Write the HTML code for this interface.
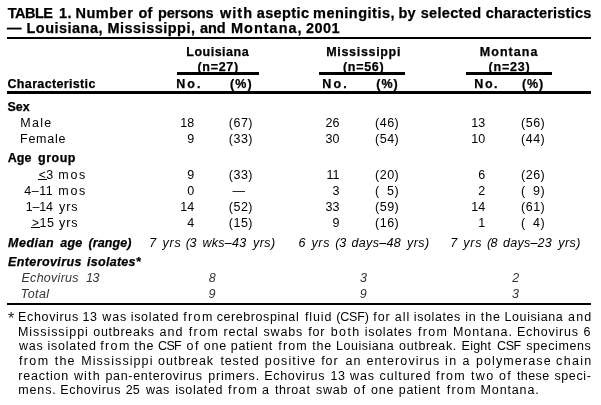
<!DOCTYPE html>
<html lang="en"><head><meta charset="utf-8"><title>TABLE 1</title>
<style>
html,body{margin:0;padding:0;background:#fff;}
body{width:601px;height:405px;position:relative;overflow:hidden;font-family:"Liberation Sans",Arial,Helvetica,sans-serif;color:#000;}
.t{position:absolute;white-space:pre;line-height:16px;font-size:12.5px;}
.b{font-weight:bold;-webkit-text-stroke:0.25px #000;}.i{font-style:italic;}.bi{font-weight:bold;font-style:italic;-webkit-text-stroke:0.25px #000;}.lt{color:#333;}
.ra{text-align:right;}
.rule{position:absolute;background:#000;}
u{text-decoration:none;position:relative;}
u{font-size:12px;}u::after{content:"";position:absolute;left:-1px;right:-0.5px;bottom:2px;height:1px;background:#000;}
</style></head><body>
<span class="t b" style="left:7.75px;top:4.98px;font-size:14.5px;letter-spacing:-0.500px;">TABLE </span>
<span class="t b" style="left:59.00px;top:4.98px;font-size:14.5px;letter-spacing:0.500px;">1. </span>
<span class="t b" style="left:75.50px;top:4.98px;font-size:14.5px;letter-spacing:0.500px;">Number </span>
<span class="t b" style="left:138.50px;top:4.98px;font-size:14.5px;letter-spacing:0.250px;">of </span>
<span class="t b" style="left:158.00px;top:4.98px;font-size:14.5px;letter-spacing:-0.125px;">persons </span>
<span class="t b" style="left:220.00px;top:4.98px;font-size:14.5px;letter-spacing:1.000px;">with </span>
<span class="t b" style="left:256.70px;top:4.98px;font-size:14.5px;letter-spacing:0.383px;">aseptic </span>
<span class="t b" style="left:313.00px;top:4.98px;font-size:14.5px;letter-spacing:0.500px;">meningitis, </span>
<span class="t b" style="left:398.50px;top:4.98px;font-size:14.5px;letter-spacing:0.250px;">by </span>
<span class="t b" style="left:420.70px;top:4.98px;font-size:14.5px;letter-spacing:0.329px;">selected </span>
<span class="t b" style="left:485.70px;top:4.98px;font-size:14.5px;letter-spacing:0.232px;">characteristics </span>
<span class="t b" style="left:7.00px;top:19.98px;font-size:14.5px;">— </span>
<span class="t b" style="left:26.50px;top:19.98px;font-size:14.5px;letter-spacing:0.472px;">Louisiana, </span>
<span class="t b" style="left:107.50px;top:19.98px;font-size:14.5px;letter-spacing:0.477px;">Mississippi, </span>
<span class="t b" style="left:200.00px;top:19.98px;font-size:14.5px;letter-spacing:-0.125px;">and </span>
<span class="t b" style="left:231.00px;top:19.98px;font-size:14.5px;letter-spacing:0.993px;">Montana, </span>
<span class="t b" style="left:306.00px;top:19.98px;font-size:14.5px;letter-spacing:0.417px;">2001 </span>
<div class="rule" style="left:7px;top:37px;width:584px;height:2px"></div>
<span class="t b" style="left:186.25px;top:43.67px;letter-spacing:0.500px;">Louisiana</span>
<span class="t b" style="left:326.25px;top:43.67px;letter-spacing:0.675px;">Mississippi</span>
<span class="t b" style="left:479.75px;top:43.67px;letter-spacing:1.042px;">Montana</span>
<span class="t b" style="left:197.50px;top:58.67px;letter-spacing:0.700px;">(n=27)</span>
<span class="t b" style="left:343.00px;top:58.67px;letter-spacing:0.700px;">(n=56)</span>
<span class="t b" style="left:488.50px;top:58.67px;letter-spacing:0.800px;">(n=23)</span>
<div class="rule" style="left:177px;top:72px;width:82px;height:3px"></div>
<div class="rule" style="left:319px;top:72px;width:86px;height:3px"></div>
<div class="rule" style="left:466px;top:72px;width:86px;height:3px"></div>
<span class="t b" style="left:7.50px;top:75.67px;letter-spacing:0.346px;">Characteristic</span>
<span class="t b" style="left:176.25px;top:75.67px;letter-spacing:2.000px;">No.</span>
<span class="t b" style="left:230.00px;top:75.67px;letter-spacing:1.125px;">(%)</span>
<span class="t b" style="left:322.25px;top:75.67px;letter-spacing:2.125px;">No.</span>
<span class="t b" style="left:376.20px;top:75.67px;letter-spacing:1.025px;">(%)</span>
<span class="t b" style="left:474.25px;top:75.67px;letter-spacing:1.600px;">No.</span>
<span class="t b" style="left:522.00px;top:75.67px;letter-spacing:0.875px;">(%)</span>
<div class="rule" style="left:7px;top:91px;width:584px;height:3px"></div>
<span class="t b" style="left:7.50px;top:98.67px;">Sex</span>
<span class="t r" style="left:20.30px;top:114.67px;letter-spacing:1.233px;">Male</span>
<span class="t ra" style="right:406.75px;top:114.67px;">18</span>
<span class="t ra" style="right:348.0px;top:114.67px;letter-spacing:0.5px;">(67)</span>
<span class="t ra" style="right:261.5px;top:114.67px;">26</span>
<span class="t ra" style="right:201.75px;top:114.67px;letter-spacing:0.5px;">(46)</span>
<span class="t ra" style="right:115.75px;top:114.67px;">13</span>
<span class="t ra" style="right:55.75px;top:114.67px;letter-spacing:0.5px;">(56)</span>
<span class="t r" style="left:20.00px;top:130.67px;letter-spacing:0.750px;">Female</span>
<span class="t ra" style="right:406.75px;top:130.67px;">9</span>
<span class="t ra" style="right:348.0px;top:130.67px;letter-spacing:0.5px;">(33)</span>
<span class="t ra" style="right:261.5px;top:130.67px;">30</span>
<span class="t ra" style="right:201.75px;top:130.67px;letter-spacing:0.5px;">(54)</span>
<span class="t ra" style="right:115.75px;top:130.67px;">10</span>
<span class="t ra" style="right:55.75px;top:130.67px;letter-spacing:0.5px;">(44)</span>
<span class="t b" style="left:7.75px;top:149.67px;">Age </span>
<span class="t b" style="left:38.10px;top:149.67px;letter-spacing:0.475px;">group</span>
<span class="t r" style="left:38.75px;top:166.67px;letter-spacing:0.500px;"><u>&lt;</u>3</span>
<span class="t r" style="left:58.25px;top:166.67px;letter-spacing:1.750px;">mos</span>
<span class="t ra" style="right:406.75px;top:166.67px;">9</span>
<span class="t ra" style="right:348.0px;top:166.67px;letter-spacing:0.5px;">(33)</span>
<span class="t ra" style="right:261.5px;top:166.67px;">11</span>
<span class="t ra" style="right:201.75px;top:166.67px;letter-spacing:0.5px;">(20)</span>
<span class="t ra" style="right:115.75px;top:166.67px;">6</span>
<span class="t ra" style="right:55.75px;top:166.67px;letter-spacing:0.5px;">(26)</span>
<span class="t r" style="left:24.35px;top:182.67px;letter-spacing:0.467px;">4–11</span>
<span class="t r" style="left:58.25px;top:182.67px;letter-spacing:1.750px;">mos</span>
<span class="t ra" style="right:406.75px;top:182.67px;">0</span>
<span class="t ra" style="right:356px;top:182.67px;">—</span>
<span class="t ra" style="right:261.5px;top:182.67px;">3</span>
<span class="t ra" style="right:201.75px;top:182.67px;letter-spacing:0.5px;word-spacing:3.47px;">( 5)</span>
<span class="t ra" style="right:115.75px;top:182.67px;">2</span>
<span class="t ra" style="right:55.75px;top:182.67px;letter-spacing:0.5px;word-spacing:3.47px;">( 9)</span>
<span class="t r" style="left:25.70px;top:198.67px;letter-spacing:-0.167px;">1–14</span>
<span class="t r" style="left:59.00px;top:198.67px;letter-spacing:0.875px;">yrs</span>
<span class="t ra" style="right:406.75px;top:198.67px;">14</span>
<span class="t ra" style="right:348.0px;top:198.67px;letter-spacing:0.5px;">(52)</span>
<span class="t ra" style="right:261.5px;top:198.67px;">33</span>
<span class="t ra" style="right:201.75px;top:198.67px;letter-spacing:0.5px;">(59)</span>
<span class="t ra" style="right:115.75px;top:198.67px;">14</span>
<span class="t ra" style="right:55.75px;top:198.67px;letter-spacing:0.5px;">(61)</span>
<span class="t r" style="left:32.00px;top:214.67px;letter-spacing:0.475px;"><u>&gt;</u>15</span>
<span class="t r" style="left:59.00px;top:214.67px;letter-spacing:0.875px;">yrs</span>
<span class="t ra" style="right:406.75px;top:214.67px;">4</span>
<span class="t ra" style="right:348.0px;top:214.67px;letter-spacing:0.5px;">(15)</span>
<span class="t ra" style="right:261.5px;top:214.67px;">9</span>
<span class="t ra" style="right:201.75px;top:214.67px;letter-spacing:0.5px;">(16)</span>
<span class="t ra" style="right:115.75px;top:214.67px;">1</span>
<span class="t ra" style="right:55.75px;top:214.67px;letter-spacing:0.5px;word-spacing:3.47px;">( 4)</span>
<span class="t bi" style="left:8.05px;top:234.67px;letter-spacing:0.490px;">Median </span>
<span class="t bi" style="left:60.30px;top:234.67px;letter-spacing:0.225px;">age </span>
<span class="t bi" style="left:88.50px;top:234.67px;letter-spacing:0.083px;">(range)</span>
<span class="t i" style="left:149.35px;top:234.67px;">7 </span>
<span class="t i" style="left:162.45px;top:234.67px;letter-spacing:0.800px;">yrs </span>
<span class="t i" style="left:185.80px;top:234.67px;letter-spacing:-0.500px;">(3 </span>
<span class="t i" style="left:202.50px;top:234.67px;letter-spacing:0.250px;">wks–43 </span>
<span class="t i" style="left:253.05px;top:234.67px;letter-spacing:0.450px;">yrs)</span>
<span class="t i" style="left:298.55px;top:234.67px;">6 </span>
<span class="t i" style="left:311.45px;top:234.67px;letter-spacing:0.650px;">yrs </span>
<span class="t i" style="left:335.20px;top:234.67px;letter-spacing:-0.200px;">(3 </span>
<span class="t i" style="left:351.50px;top:234.67px;letter-spacing:0.325px;">days–48 </span>
<span class="t i" style="left:407.05px;top:234.67px;letter-spacing:0.450px;">yrs)</span>
<span class="t i" style="left:450.15px;top:234.67px;">7 </span>
<span class="t i" style="left:463.35px;top:234.67px;letter-spacing:0.700px;">yrs </span>
<span class="t i" style="left:486.90px;top:234.67px;letter-spacing:-0.600px;">(8 </span>
<span class="t i" style="left:503.10px;top:234.67px;letter-spacing:0.225px;">days–23 </span>
<span class="t i" style="left:558.35px;top:234.67px;letter-spacing:0.383px;">yrs)</span>
<span class="t bi" style="left:8.05px;top:253.67px;letter-spacing:0.395px;">Enterovirus </span>
<span class="t bi" style="left:87.05px;top:253.67px;letter-spacing:0.275px;">isolates*</span>
<span class="t i lt" style="left:21.50px;top:269.67px;letter-spacing:0.275px;">Echovirus </span>
<span class="t i lt" style="left:86.05px;top:269.67px;letter-spacing:-0.500px;">13</span>
<span class="t i lt" style="left:208.75px;top:269.67px;">8</span>
<span class="t i lt" style="left:360.05px;top:269.67px;">3</span>
<span class="t i lt" style="left:512.20px;top:269.67px;">2</span>
<span class="t i lt" style="left:20.75px;top:285.67px;letter-spacing:0.438px;">Total</span>
<span class="t i lt" style="left:208.50px;top:285.67px;">9</span>
<span class="t i lt" style="left:359.80px;top:285.67px;">9</span>
<span class="t i lt" style="left:511.95px;top:285.67px;">3</span>
<div class="rule" style="left:7px;top:303px;width:584px;height:2px"></div>
<span class="t" style="left:7.9px;top:311.46px;font-size:16px;color:#222;">*</span>
<span class="t r" style="left:18.00px;top:308.67px;letter-spacing:0.669px;">Echovirus </span>
<span class="t r" style="left:82.60px;top:308.67px;letter-spacing:0.550px;">13 </span>
<span class="t r" style="left:102.25px;top:308.67px;letter-spacing:0.850px;">was </span>
<span class="t r" style="left:130.75px;top:308.67px;letter-spacing:0.657px;">isolated </span>
<span class="t r" style="left:183.15px;top:308.67px;letter-spacing:1.400px;">from </span>
<span class="t r" style="left:216.70px;top:308.67px;letter-spacing:0.579px;">cerebrospinal </span>
<span class="t r" style="left:304.95px;top:308.67px;letter-spacing:0.875px;">fluid </span>
<span class="t r" style="left:336.25px;top:308.67px;letter-spacing:-0.188px;">(CSF) </span>
<span class="t r" style="left:373.35px;top:308.67px;letter-spacing:0.875px;">for </span>
<span class="t r" style="left:394.80px;top:308.67px;letter-spacing:1.025px;">all </span>
<span class="t r" style="left:413.85px;top:308.67px;letter-spacing:0.579px;">isolates </span>
<span class="t r" style="left:465.35px;top:308.67px;letter-spacing:0.650px;">in </span>
<span class="t r" style="left:480.75px;top:308.67px;letter-spacing:0.950px;">the </span>
<span class="t r" style="left:504.60px;top:308.67px;letter-spacing:0.562px;">Louisiana </span>
<span class="t r" style="left:568.10px;top:308.67px;letter-spacing:1.100px;">and </span>
<span class="t r" style="left:18.00px;top:323.67px;letter-spacing:0.940px;">Mississippi </span>
<span class="t r" style="left:93.20px;top:323.67px;letter-spacing:0.737px;">outbreaks </span>
<span class="t r" style="left:159.40px;top:323.67px;letter-spacing:1.100px;">and </span>
<span class="t r" style="left:188.75px;top:323.67px;letter-spacing:1.400px;">from </span>
<span class="t r" style="left:223.55px;top:323.67px;letter-spacing:0.740px;">rectal </span>
<span class="t r" style="left:263.50px;top:323.67px;letter-spacing:0.850px;">swabs </span>
<span class="t r" style="left:308.35px;top:323.67px;letter-spacing:0.725px;">for </span>
<span class="t r" style="left:330.85px;top:323.67px;letter-spacing:1.317px;">both </span>
<span class="t r" style="left:364.85px;top:323.67px;letter-spacing:0.636px;">isolates </span>
<span class="t r" style="left:417.95px;top:323.67px;letter-spacing:1.333px;">from </span>
<span class="t r" style="left:452.90px;top:323.67px;letter-spacing:1.000px;">Montana. </span>
<span class="t r" style="left:517.00px;top:323.67px;letter-spacing:0.750px;">Echovirus </span>
<span class="t r" style="left:583.40px;top:323.67px;">6 </span>
<span class="t r" style="left:19.00px;top:337.67px;letter-spacing:0.775px;">was </span>
<span class="t r" style="left:47.55px;top:337.67px;letter-spacing:0.743px;">isolated </span>
<span class="t r" style="left:100.15px;top:337.67px;letter-spacing:1.400px;">from </span>
<span class="t r" style="left:134.35px;top:337.67px;letter-spacing:0.850px;">the </span>
<span class="t r" style="left:158.10px;top:337.67px;letter-spacing:-0.700px;">CSF </span>
<span class="t r" style="left:186.60px;top:337.67px;letter-spacing:1.400px;">of </span>
<span class="t r" style="left:203.80px;top:337.67px;letter-spacing:0.775px;">one </span>
<span class="t r" style="left:230.85px;top:337.67px;letter-spacing:0.642px;">patient </span>
<span class="t r" style="left:278.35px;top:337.67px;letter-spacing:1.100px;">from </span>
<span class="t r" style="left:312.35px;top:337.67px;letter-spacing:0.800px;">the </span>
<span class="t r" style="left:336.00px;top:337.67px;letter-spacing:0.513px;">Louisiana </span>
<span class="t r" style="left:399.10px;top:337.67px;letter-spacing:0.637px;">outbreak. </span>
<span class="t r" style="left:461.60px;top:337.67px;letter-spacing:0.225px;">Eight </span>
<span class="t r" style="left:497.10px;top:337.67px;letter-spacing:-0.450px;">CSF </span>
<span class="t r" style="left:526.20px;top:337.67px;letter-spacing:0.606px;">specimens </span>
<span class="t r" style="left:18.95px;top:352.67px;letter-spacing:1.400px;">from </span>
<span class="t r" style="left:54.75px;top:352.67px;letter-spacing:1.200px;">the </span>
<span class="t r" style="left:81.20px;top:352.67px;letter-spacing:1.080px;">Mississippi </span>
<span class="t r" style="left:158.10px;top:352.67px;letter-spacing:0.900px;">outbreak </span>
<span class="t r" style="left:220.45px;top:352.67px;letter-spacing:0.860px;">tested </span>
<span class="t r" style="left:264.85px;top:352.67px;letter-spacing:1.143px;">positive </span>
<span class="t r" style="left:321.15px;top:352.67px;letter-spacing:0.975px;">for </span>
<span class="t r" style="left:345.40px;top:352.67px;letter-spacing:1.200px;">an </span>
<span class="t r" style="left:366.40px;top:352.67px;letter-spacing:1.095px;">enterovirus </span>
<span class="t r" style="left:445.02px;top:352.67px;letter-spacing:1.400px;">in </span>
<span class="t r" style="left:462.50px;top:352.67px;">a </span>
<span class="t r" style="left:475.95px;top:352.67px;letter-spacing:1.117px;">polymerase </span>
<span class="t r" style="left:556.10px;top:352.67px;letter-spacing:1.300px;">chain </span>
<span class="t r" style="left:18.25px;top:367.67px;letter-spacing:0.800px;">reaction </span>
<span class="t r" style="left:73.90px;top:367.67px;letter-spacing:1.200px;">with </span>
<span class="t r" style="left:105.45px;top:367.67px;letter-spacing:0.689px;">pan-enterovirus </span>
<span class="t r" style="left:208.15px;top:367.67px;letter-spacing:0.836px;">primers. </span>
<span class="t r" style="left:264.30px;top:367.67px;letter-spacing:0.650px;">Echovirus </span>
<span class="t r" style="left:330.60px;top:367.67px;letter-spacing:0.450px;">13 </span>
<span class="t r" style="left:349.90px;top:367.67px;letter-spacing:0.975px;">was </span>
<span class="t r" style="left:379.50px;top:367.67px;letter-spacing:0.921px;">cultured </span>
<span class="t r" style="left:436.05px;top:367.67px;letter-spacing:1.200px;">from </span>
<span class="t r" style="left:470.88px;top:367.67px;letter-spacing:1.400px;">two </span>
<span class="t r" style="left:499.00px;top:367.67px;letter-spacing:1.400px;">of </span>
<span class="t r" style="left:516.95px;top:367.67px;letter-spacing:0.412px;">these </span>
<span class="t r" style="left:554.40px;top:367.67px;letter-spacing:0.630px;">speci-</span>
<span class="t r" style="left:18.25px;top:381.67px;letter-spacing:0.863px;">mens. </span>
<span class="t r" style="left:60.30px;top:381.67px;letter-spacing:0.650px;">Echovirus </span>
<span class="t r" style="left:125.70px;top:381.67px;letter-spacing:0.050px;">25 </span>
<span class="t r" style="left:145.90px;top:381.67px;letter-spacing:0.575px;">was </span>
<span class="t r" style="left:175.15px;top:381.67px;letter-spacing:0.600px;">isolated </span>
<span class="t r" style="left:227.95px;top:381.67px;letter-spacing:1.333px;">from </span>
<span class="t r" style="left:262.10px;top:381.67px;">a </span>
<span class="t r" style="left:275.05px;top:381.67px;letter-spacing:0.570px;">throat </span>
<span class="t r" style="left:316.10px;top:381.67px;letter-spacing:0.717px;">swab </span>
<span class="t r" style="left:353.40px;top:381.67px;letter-spacing:1.400px;">of </span>
<span class="t r" style="left:371.10px;top:381.67px;letter-spacing:0.775px;">one </span>
<span class="t r" style="left:398.85px;top:381.67px;letter-spacing:0.658px;">patient </span>
<span class="t r" style="left:446.75px;top:381.67px;letter-spacing:1.200px;">from </span>
<span class="t r" style="left:480.60px;top:381.67px;letter-spacing:0.857px;">Montana.</span>
</body></html>
